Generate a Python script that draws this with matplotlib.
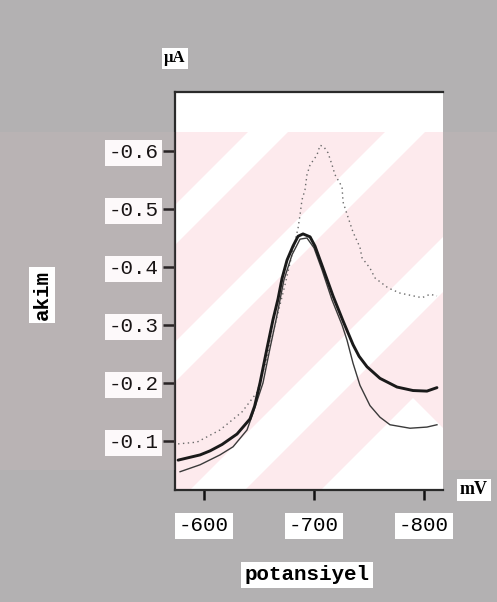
import matplotlib
matplotlib.use("Agg")
import matplotlib.pyplot as plt
from matplotlib.patches import Polygon
from matplotlib.transforms import Affine2D

# ---------------- data (potential in mV, current in µA) ----------------
pot_bold = [-576.4, -596.4, -605.5, -616.4, -630.0, -641.8, -646.0, -650.9, -657.3, -662.7,
            -667.3, -670.9, -675.5, -680.9, -685.5, -690.0, -696.4, -700.9, -708.2,
            -717.3, -726.4, -735.5, -741.0, -748.2, -760.0, -775.5, -790.0, -802.7, -811.8]
cur_bold = [-0.067, -0.076, -0.083, -0.094, -0.112, -0.138, -0.160, -0.200, -0.260, -0.309,
            -0.345, -0.380, -0.412, -0.436, -0.453, -0.457, -0.452, -0.436, -0.398,
            -0.350, -0.307, -0.266, -0.246, -0.228, -0.208, -0.193, -0.187, -0.186, -0.192]

pot_thin = [-578.2, -596.4, -614.5, -626.4, -639.1, -644.5, -653.6, -660.0, -665.5,
            -672.7, -680.0, -687.3, -693.6, -700.0, -707.3, -716.4, -725.5, -730.0,
            -735.5, -741.8, -750.9, -760.0, -769.1, -787.3, -802.7, -811.8]
cur_thin = [-0.047, -0.059, -0.076, -0.090, -0.119, -0.148, -0.200, -0.260, -0.309,
            -0.378, -0.421, -0.448, -0.450, -0.433, -0.395, -0.343, -0.300, -0.274,
            -0.234, -0.196, -0.161, -0.141, -0.128, -0.122, -0.124, -0.128]

pot_dot = [-576.4, -593.6, -614.5, -625.5, -634.5, -648.2, -655.5, -664.5, -673.6,
           -680.9, -685.5, -687.3, -689.1, -691.8, -693.6, -696.4, -702.7, -705.5,
           -709.0, -712.7, -716.4, -719.1, -725.5, -726.4, -730.9, -735.5, -741.8,
           -743.6, -750.9, -755.5, -767.3, -778.2, -798.2, -805.5, -811.8]
cur_dot = [-0.095, -0.098, -0.119, -0.136, -0.150, -0.184, -0.231, -0.300, -0.369,
           -0.429, -0.467, -0.490, -0.516, -0.533, -0.559, -0.576, -0.593, -0.610,
           -0.607, -0.597, -0.576, -0.559, -0.538, -0.512, -0.486, -0.460, -0.434,
           -0.416, -0.398, -0.381, -0.364, -0.355, -0.347, -0.353, -0.350]

y_ticks = [-0.6, -0.5, -0.4, -0.3, -0.2, -0.1]
y_labels = ["-0.6", "-0.5", "-0.4", "-0.3", "-0.2", "-0.1"]
x_ticks = [-600, -700, -800]
x_labels = ["-600", "-700", "-800"]

# ---------------- figure ----------------
W, H = 497, 602
fig = plt.figure(figsize=(W / 100, H / 100), dpi=100, facecolor="#b3b1b2")
px = Affine2D().scale(1 / W, -1 / H).translate(0, 1) + fig.transFigure

# faint pink watermark over grey background
for poly in [[(0, 132), (175, 132), (175, 470), (0, 470)],
             [(443, 132), (497, 132), (497, 470), (443, 470)]]:
    fig.patches.append(Polygon(poly, closed=True, transform=px, facecolor="#f3c6ce",
                               alpha=0.10, edgecolor="none", zorder=0))

ax = fig.add_axes([175 / W, 1 - 490 / H, (443 - 175) / W, (490 - 92) / H])
ax.set_facecolor("#fdeaed")

# white stripes of the watermark inside the plot area (decoration)
def band(a, b):
    return [(100, a - 100), (600, a - 600), (600, b - 600), (100, b - 100)]

white_shapes = [
    [(150, 80), (460, 80), (460, 132), (150, 132)],
    band(380, 420),
    band(517, 557),
    band(680, 735),
    [(413, 398), (600, 585), (600, 700), (111, 700)],
]
for shp in white_shapes:
    p = Polygon(shp, closed=True, transform=px, facecolor="white", edgecolor="none", zorder=0.5)
    ax.add_patch(p)
    p.set_clip_path(ax.patch)

ax.plot(pot_dot, cur_dot, color="#6a6a6a", lw=1.0, ls=(0, (1, 2.5)), zorder=3)
ax.plot(pot_thin, cur_thin, color="#3a3a3a", lw=1.0, zorder=3)
ax.plot(pot_bold, cur_bold, color="#1a1a1a", lw=2.1, zorder=4,
        solid_joinstyle="round", solid_capstyle="round")

ax.set_xlim(-573.6, -817.3)
ax.set_ylim(-0.0155, -0.7017)

for s in ["left", "top", "bottom"]:
    ax.spines[s].set_color("#2a2a2a")
    ax.spines[s].set_linewidth(1.6)
ax.spines["right"].set_visible(False)

mono = "Liberation Mono"
ax.set_yticks(y_ticks)
ax.set_yticklabels(y_labels, fontfamily=mono, fontsize=15)
ax.set_xticks(x_ticks)
ax.set_xticklabels(x_labels, fontfamily=mono, fontsize=15)
ax.tick_params(axis="y", direction="out", length=9, width=1.8, color="#111", pad=3)
ax.tick_params(axis="x", direction="out", length=7, width=1.8, color="#111", pad=12)
for lab in ax.get_yticklabels() + ax.get_xticklabels():
    lab.set_bbox(dict(boxstyle="square,pad=0.18", facecolor="white", edgecolor="none"))

box = dict(boxstyle="square,pad=0.15", facecolor="white", edgecolor="none")
fig.text(175 / W, 1 - 58 / H, "µA", transform=fig.transFigure, ha="center", va="center",
         fontfamily="Liberation Serif", fontsize=12, fontweight="bold", bbox=box)
fig.text(474 / W, 1 - 490 / H, "mV", transform=fig.transFigure, ha="center", va="center",
         fontfamily="Liberation Serif", fontsize=13, fontweight="bold", bbox=box)
fig.text(42 / W, 1 - 295 / H, "akim", transform=fig.transFigure, ha="center", va="center",
         rotation=90, fontfamily=mono, fontsize=15, fontweight="bold", bbox=box)
fig.text(307 / W, 1 - 575 / H, "potansiyel", transform=fig.transFigure, ha="center",
         va="center", fontfamily=mono, fontsize=15, fontweight="bold", bbox=box)

fig.savefig("out.png", dpi=100, facecolor=fig.get_facecolor())
